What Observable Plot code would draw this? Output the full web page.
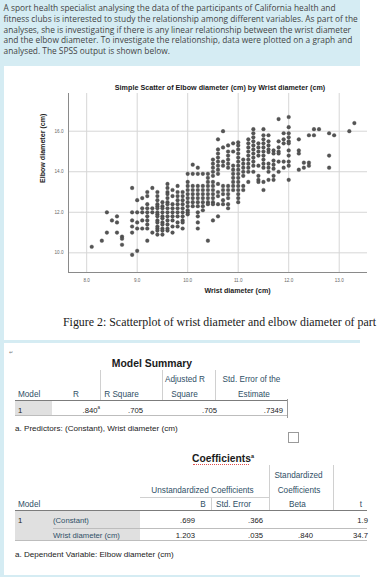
<!DOCTYPE html>
<html><head><meta charset="utf-8">
<script src="https://cdn.jsdelivr.net/npm/d3@7"></script>
<script src="https://cdn.jsdelivr.net/npm/@observablehq/plot@0.6"></script>
<style>
html,body{margin:0;padding:0;background:#fff;}
body{position:relative;width:378px;height:577px;overflow:hidden;font-family:"Liberation Sans",Arial,sans-serif;}
.a{position:absolute;white-space:nowrap;line-height:1;}
.box{position:absolute;}
#intro{position:absolute;left:0;top:0;width:360px;height:66px;background:#d5ecf3;}
#introText{position:absolute;left:3.5px;top:2.9px;font-family:"Open Sans",sans-serif;font-size:8.35px;line-height:10.85px;color:#444;white-space:nowrap;}
#chart{position:absolute;left:0;top:80px;}
</style></head><body>
<div id="intro"><div id="introText">A sport health specialist analysing the data of the participants of California health and<br>fitness clubs is interested to study the relationship among different variables. As part of the<br>analyses, she is investigating if there is any linear relationship between the wrist diameter<br>and the elbow diameter. To investigate the relationship, data were plotted on a graph and<br>analysed. The SPSS output is shown below.</div></div>
<div class="box" style="left:0;top:66px;width:4px;height:511px;background:#d5ecf3"></div>
<div class="box" style="left:4px;top:340px;width:356px;height:3px;background:#d5ecf3"></div>
<div class="box" style="left:4px;top:575px;width:356px;height:2px;background:#d5ecf3"></div>
<div id="chart"></div>
<script>
// ---- scatter data: wrist diameter columns and the elbow diameters read in each ----
const wristCols = [8.1, 8.3, 8.4, 8.5, 8.6, 8.7, 8.9, 9.0, 9.1, 9.2, 9.3, 9.4, 9.5, 9.6, 9.7, 9.8, 9.9, 10.0, 10.1, 10.2, 10.3, 10.4, 10.5, 10.6, 10.7, 10.8, 10.9, 11.0, 11.1, 11.2, 11.3, 11.4, 11.5, 11.6, 11.7, 11.8, 11.9, 12.0, 12.2, 12.3, 12.4, 12.5, 12.6, 12.8, 12.9, 13.2, 13.3];
const elbowCols = [
  [10.3],
  [10.6],
  [12.0, 11.0],
  [11.6],
  [11.8, 11.5, 11.0],
  [10.8, 10.7, 10.4],
  [13.2, 12.0, 11.6, 11.3, 11.0, 9.9],
  [12.6, 12.0, 11.5, 11.2, 10.1],
  [12.7, 12.2, 12.0, 11.6, 11.2],
  [13.0, 12.8, 12.4, 12.2, 12.0, 11.8, 11.6, 11.4, 11.2, 10.6],
  [13.2, 12.2, 12.0, 11.0],
  [13.0, 12.8, 12.6, 12.4, 12.3, 12.2, 12.0, 11.9, 11.8, 11.6, 11.5, 11.3, 11.2, 11.1, 10.9],
  [12.5, 12.3, 12.2, 12.0, 11.8, 11.7, 11.5, 11.4, 11.2, 11.1, 10.9],
  [13.4, 13.2, 13.0, 12.9, 12.7, 12.5, 12.4, 12.2, 12.0, 11.8, 11.6, 11.4, 11.2, 11.1],
  [13.1, 12.8, 12.4, 12.2, 12.0, 11.8, 11.6, 11.3, 11.0],
  [13.3, 13.0, 12.8, 12.6, 12.4, 12.2, 12.0, 11.8, 11.5, 11.3],
  [13.0, 12.8, 12.6, 12.4, 12.2, 12.0, 11.8, 11.6, 11.5, 11.2],
  [13.9, 13.5, 13.3, 13.1, 12.9, 12.7, 12.5, 12.3, 12.1, 12.0, 11.9],
  [14.35, 13.9, 13.3, 13.1, 12.9, 12.7, 12.5, 12.3],
  [14.2, 13.9, 13.3, 13.1, 12.9, 12.7, 12.5, 12.3, 12.0, 11.8, 11.5, 11.2],
  [13.9, 13.3, 13.1, 12.9, 12.7, 12.5, 12.3, 12.1],
  [13.9, 13.7, 13.5, 13.3, 13.1, 12.9, 12.7, 12.5, 12.4, 10.6],
  [14.6, 14.4, 14.2, 14.0, 13.8, 13.5, 13.3, 13.1, 12.9, 12.7, 12.5, 12.4, 11.6],
  [15.6, 15.1, 14.9, 14.7, 14.5, 14.3, 14.1, 13.9, 13.4, 13.0, 12.8, 12.4, 11.8],
  [16.0, 15.2, 14.5, 14.3, 13.3, 13.1, 12.9, 12.6, 12.4],
  [15.3, 15.0, 14.8, 14.6, 14.4, 14.2, 13.3, 13.1, 12.9, 12.7, 12.4, 12.2],
  [15.4, 15.0, 14.3, 14.1, 13.9, 13.7, 13.5, 13.3, 13.1],
  [15.45, 15.3, 15.1, 14.9, 14.7, 14.5, 14.3, 14.1, 13.9, 13.7, 13.5, 13.3, 13.1, 12.9, 12.7, 12.5],
  [14.6, 14.4, 14.2, 14.0, 13.8, 13.3, 13.1],
  [15.6, 15.4, 15.2, 15.0, 14.8, 14.6, 14.4, 14.2, 14.0, 13.5],
  [16.1, 15.9, 15.7, 15.5, 15.3, 15.1, 14.9, 14.7, 14.5, 14.3, 14.0],
  [15.4, 15.2, 15.0, 14.8, 14.3, 13.8, 13.6, 13.5],
  [16.1, 15.8, 15.6, 15.4, 15.2, 15.0, 14.8, 14.6, 14.4, 14.2, 13.5, 13.1],
  [15.8, 15.5, 15.3, 15.1, 14.97, 14.4, 14.2, 14.0, 13.6],
  [15.05, 14.9, 14.55, 14.35, 14.15, 13.8, 13.6],
  [16.6, 15.5, 15.2, 15.0, 14.9, 14.5, 14.0],
  [15.9, 15.6, 15.4, 14.5, 14.2],
  [16.7, 16.2, 15.9, 15.7, 15.5, 15.4, 15.05, 14.8, 14.5, 14.3, 13.6],
  [15.6, 15.05, 14.9, 14.1],
  [14.45, 14.2],
  [15.8, 14.45, 14.3],
  [16.1, 15.8],
  [16.1],
  [15.9, 14.8, 14.2],
  [15.8],
  [16.0],
  [16.4]
];
const xTicks = [8, 9, 10, 11, 12, 13];
const yTicks = [10, 12, 14, 16];
const xDomain = [7.64, 13.56];
const yDomain = [9.03, 17.86];
const chartTitle = "Simple Scatter of Elbow diameter (cm) by Wrist diameter (cm)";
const xLabel = "Wrist diameter (cm)";
const yLabel = "Elbow diameter (cm)";
const caption = "Figure 2: Scatterplot of wrist diameter and elbow diameter of part";

// ---- SPSS tables ----
const summaryTitle = "Model Summary";
const summaryRow = ["1", ".840", ".705", ".705", ".7349"];
const summaryNote = "a. Predictors: (Constant), Wrist diameter (cm)";
const coefTitle = "Coefficients";
const coefRows = [
  ["1", "(Constant)", ".699", ".366", "", "1.9"],
  ["", "Wrist diameter (cm)", "1.203", ".035", ".840", "34.7"]
];
const coefNote = "a. Dependent Variable: Elbow diameter (cm)";

const points = wristCols.flatMap((w, i) => elbowCols[i].map(e => ({wrist: w, elbow: e})));

const chart = Plot.plot({
  width: 378, height: 220,
  marginLeft: 68, marginRight: 11, marginTop: 13, marginBottom: 28,
  x: {domain: xDomain},
  y: {domain: yDomain},
  style: {fontFamily: "'Liberation Sans', Arial, sans-serif", background: "transparent", color: "#555", overflow: "visible"},
  marks: [
    Plot.gridX(xTicks, {stroke: "#d6d6d6", strokeOpacity: 1, strokeWidth: 1}),
    Plot.gridY(yTicks, {stroke: "#d6d6d6", strokeOpacity: 1, strokeWidth: 1}),
    Plot.ruleX([xDomain[0]], {stroke: "#8a8a8a", strokeWidth: 1}),
    Plot.ruleY([yDomain[0]], {stroke: "#8a8a8a", strokeWidth: 1}),
    Plot.axisX(xTicks, {tickSize: 0, tickPadding: 6, fontSize: 4.6, tickFormat: d => d.toFixed(1), label: null, fill: "#666"}),
    Plot.axisY(yTicks, {tickSize: 0, tickPadding: 5, fontSize: 4.6, tickFormat: d => d.toFixed(1), label: null, fill: "#666"}),
    Plot.dot(points, {x: "wrist", y: "elbow", r: 1.85, fill: "#555", stroke: "#3a3a3a", strokeWidth: 0.3}),
    Plot.text([xLabel], {frameAnchor: "bottom", text: d => d, dx: 19.5, dy: 18.7, lineAnchor: "middle", fontSize: 7.1, fontWeight: "bold", fill: "#222"}),
    Plot.text([yLabel], {frameAnchor: "left", text: d => d, dx: -26, rotate: -90, lineAnchor: "middle", fontSize: 7.1, fontWeight: "bold", fill: "#222"})
  ]
});
document.getElementById("chart").appendChild(chart);

// ---- helpers for HTML text layout ----
function put(txt, x, y, o = {}) {
  const d = document.createElement("div");
  d.className = "a";
  const size = o.size || 8;
  d.style.fontSize = size + "px";
  d.style.left = x + "px";
  d.style.top = (y - size * 0.52) + "px";
  if (o.weight) d.style.fontWeight = o.weight;
  d.style.color = o.color || "#1a1a1a";
  if (o.family) d.style.fontFamily = o.family;
  if (o.anchor === "center") d.style.transform = "translateX(-50%)";
  if (o.anchor === "right") d.style.transform = "translateX(-100%)";
  d.innerHTML = txt;
  (o.parent || document.body).appendChild(d);
  return d;
}
function rect(x, y, w, h, c, parent) {
  const d = document.createElement("div");
  d.className = "box";
  Object.assign(d.style, {left: x + "px", top: y + "px", width: w + "px", height: h + "px", background: c});
  (parent || document.body).appendChild(d);
  return d;
}
const HC = "#2f4f66";
const HS = 8.2, VS = 7.7;

put(chartTitle, 220, 88, {size: 7.2, weight: "bold", anchor: "center", color: "#1a1a1a"});
put(caption, 63, 322.7, {size: 11.9, family: "'Liberation Serif', 'Times New Roman', serif", color: "#1a1a1a"});

// small return icon
put("&#8629;", 9, 353, {size: 5, color: "#777"});

// Model summary
put(summaryTitle, 152, 364, {size: 10.4, weight: "bold", anchor: "center"});
[100, 162, 215].forEach(x => rect(x, 370, 0.8, 30, "#d0d0d0"));
put("Adjusted R", 185, 380.7, {size: HS, anchor: "center", color: HC});
put("Std. Error of the", 251.5, 380.7, {size: HS, anchor: "center", color: HC});
put("Model", 18, 395, {size: HS, color: HC});
put("R", 76, 395, {size: HS, anchor: "center", color: HC});
put("R Square", 121.5, 395, {size: HS, anchor: "center", color: HC});
put("Square", 184.5, 395, {size: HS, anchor: "center", color: HC});
put("Estimate", 254, 395, {size: HS, anchor: "center", color: HC});
rect(15, 401, 37, 14, "#e0e0e0");
rect(15, 399.5, 272, 1.5, "#7c7c7c");
rect(15, 415, 272, 0.8, "#bdbdbd");
rect(287, 399, 1, 19, "#9a9a9a");
put(summaryRow[0], 18, 410.7, {size: VS});
put(summaryRow[1] + "<sup style='font-size:4.5px'>a</sup>", 100, 410.2, {size: VS, anchor: "right"});
put(summaryRow[2], 143, 410.7, {size: VS, anchor: "right"});
put(summaryRow[3], 217, 410.7, {size: VS, anchor: "right"});
put(summaryRow[4], 283, 410.7, {size: VS, anchor: "right"});
put(summaryNote, 15, 429, {size: 8.1});
const cb = rect(288, 432, 9, 9, "#fff");
cb.style.border = "1px solid #9a9a9a";

// Coefficients
put(coefTitle + "<sup style='font-size:5.5px'>a</sup>", 223, 459, {size: 10.3, weight: "bold", anchor: "center"});
rect(193, 464, 56, 0, "transparent").style.borderTop = "1px dotted #e05050";
[269, 333].forEach(x => rect(x, 465, 0.8, 45, "#d0d0d0"));
rect(211, 497, 0.8, 13, "#d0d0d0");
rect(140, 497, 129, 0.8, "#d0d0d0");
put("Standardized", 298.5, 476, {size: HS, anchor: "center", color: HC});
put("Unstandardized Coefficients", 202.5, 491, {size: HS, anchor: "center", color: HC});
put("Coefficients", 299, 491, {size: HS, anchor: "center", color: HC});
put("Model", 18, 505.7, {size: HS, color: HC});
put("B", 203, 505.7, {size: HS, anchor: "center", color: HC});
put("Std. Error", 233.5, 505.7, {size: HS, anchor: "center", color: HC});
put("Beta", 297.5, 505.7, {size: HS, anchor: "center", color: HC});
put("t", 361, 505.7, {size: HS, anchor: "center", color: HC});
rect(15, 511, 125, 29, "#e0e0e0");
rect(15, 509.5, 352, 1.5, "#7c7c7c");
rect(53, 528, 314, 0.8, "#bdbdbd");
rect(15, 540, 352, 0.8, "#bdbdbd");
const rowY = [520.7, 536];
coefRows.forEach((r, i) => {
  const y = rowY[i];
  put(r[0], 18, y, {size: VS});
  put(r[1], 53, y, {size: VS, color: HC});
  put(r[2], 195, y, {size: VS, anchor: "right"});
  put(r[3], 263, y, {size: VS, anchor: "right"});
  if (r[4]) put(r[4], 313, y, {size: VS, anchor: "right"});
  put(r[5], 368, y, {size: VS, anchor: "right"});
});
put(coefNote, 15, 555, {size: 8.1});
</script>
</body></html>
